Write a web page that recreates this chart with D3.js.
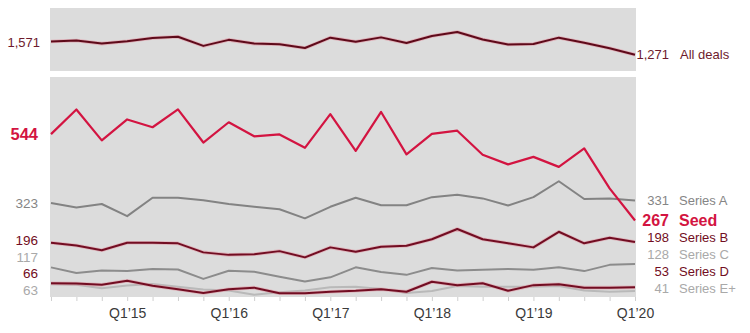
<!DOCTYPE html>
<html>
<head>
<meta charset="utf-8">
<script src="https://cdn.jsdelivr.net/npm/d3@7"></script>
<style>
  html, body { margin: 0; padding: 0; background: #fff; }
  svg { display: block; font-family: "Liberation Sans", Arial, sans-serif; }
</style>
</head>
<body>
<svg id="chart" width="750" height="333"></svg>
<script>
// Quarterly deal counts, Q2'14 through Q1'20
const quarters = [
  "Q2'14","Q3'14","Q4'14","Q1'15","Q2'15","Q3'15","Q4'15","Q1'16",
  "Q2'16","Q3'16","Q4'16","Q1'17","Q2'17","Q3'17","Q4'17","Q1'18",
  "Q2'18","Q3'18","Q4'18","Q1'19","Q2'19","Q3'19","Q4'19","Q1'20"
];
const tickLabels = ["Q1\u201915","Q1\u201916","Q1\u201917","Q1\u201918","Q1\u201919","Q1\u201920"];

const allDeals = [1571,1592,1522,1577,1650,1678,1470,1607,1522,1507,1421,1657,1565,1663,1535,1694,1785,1614,1500,1513,1657,1543,1415,1271];
const seed     = [544,623,524,591,566,623,517,582,537,543,500,608,490,615,479,545,555,478,447,471,439,498,370,267];
const seriesA  = [323,309,320,281,340,340,332,320,311,303,274,311,340,316,316,342,350,338,315,342,393,336,338,331];
const seriesB  = [196,187,172,196,196,194,165,157,159,169,149,181,167,183,186,207,240,207,194,181,231,194,212,198];
const seriesC  = [117,99,107,105,112,110,80,106,103,87,72,85,117,102,93,115,107,109,112,109,117,105,125,128];
const seriesD  = [66,65,61,74,58,47,35,47,52,34,34,39,42,47,39,71,60,66,42,60,63,52,52,53];
const seriesE  = [63,61,50,59,64,55,46,43,29,37,43,53,55,48,35,41,57,55,55,55,57,43,39,41];

const CRIMSON = "#d31441", MAROON = "#720d22", GREY = "#858585", LIGHT = "#a9a9a9";

const bottomSeries = [
  { name: "Series E+", values: seriesE, color: "#b9b9b9", text: LIGHT, halo: false },
  { name: "Series D",  values: seriesD, color: MAROON,    text: MAROON, halo: true },
  { name: "Series C",  values: seriesC, color: "#8c8c8c", text: LIGHT, halo: false },
  { name: "Series B",  values: seriesB, color: MAROON,    text: MAROON, halo: true },
  { name: "Series A",  values: seriesA, color: "#838383", text: GREY,  halo: false },
  { name: "Seed",      values: seed,    color: CRIMSON,   text: CRIMSON, halo: false, bold: true }
];

const svg = d3.select("#chart");
const left = 50, right = 636;
const top1 = 8, bot1 = 71, top2 = 77, bot2 = 297;

const x = d3.scalePoint().domain(quarters).range([51, 635]);
const yTop = d3.scaleLinear().domain([900, 2330]).range([bot1, top1]);
const yBot = d3.scaleLinear().domain([22, 727]).range([bot2, top2]);

// panel backgrounds
svg.append("rect").attr("x", left).attr("y", top1).attr("width", right - left).attr("height", bot1 - top1).attr("fill", "#dcdcdc");
svg.append("rect").attr("x", left).attr("y", top2).attr("width", right - left).attr("height", bot2 - top2).attr("fill", "#dcdcdc");

svg.append("clipPath").attr("id", "clipBot").append("rect")
  .attr("x", left).attr("y", top2).attr("width", right - left).attr("height", bot2 - top2);

// x axis with a tick at every quarter, labels on Q1 only
const axis = d3.axisBottom(x)
  .tickSize(4).tickPadding(7)
  .tickFormat(q => q.startsWith("Q1") ? tickLabels[quarters.filter(d => d.startsWith("Q1")).indexOf(q)] : "");
const gx = svg.append("g").attr("transform", `translate(0,${bot2})`).call(axis);
gx.select(".domain").remove();
gx.selectAll(".tick line").attr("stroke", "#cfcfcf");
gx.selectAll(".tick text").attr("fill", "#3a3a3a").style("font-size", "14px")
  .style("font-family", "'Liberation Sans', Arial, sans-serif");

// lines
const lineTop = d3.line().x((d, i) => x(quarters[i])).y(d => yTop(d));
const lineBot = d3.line().x((d, i) => x(quarters[i])).y(d => yBot(d));

svg.append("path").datum(allDeals).attr("d", lineTop).attr("fill", "none")
  .attr("stroke", "#e28d9b").attr("stroke-opacity", 0.55).attr("stroke-width", 3.6).attr("stroke-linejoin", "round");
svg.append("path").datum(allDeals).attr("d", lineTop).attr("fill", "none")
  .attr("stroke", "#5e0a1a").attr("stroke-width", 2).attr("stroke-linejoin", "round");

const gl = svg.append("g").attr("clip-path", "url(#clipBot)");
bottomSeries.forEach(s => {
  if (s.halo) {
    gl.append("path").datum(s.values).attr("d", lineBot).attr("fill", "none")
      .attr("stroke", "#e28d9b").attr("stroke-opacity", 0.5).attr("stroke-width", 3.6).attr("stroke-linejoin", "round");
  }
  gl.append("path").datum(s.values).attr("d", lineBot).attr("fill", "none")
    .attr("stroke", s.color).attr("stroke-width", s.name === "Seed" ? 2.2 : 2).attr("stroke-linejoin", "round");
});

// spread label positions so they do not overlap, keeping the lowest above maxY
function dodge(items, gap, maxY) {
  const sorted = items.slice().sort((a, b) => a.y - b.y);
  for (let i = 1; i < sorted.length; i++) sorted[i].y = Math.max(sorted[i].y, sorted[i - 1].y + gap);
  sorted[sorted.length - 1].y = Math.min(sorted[sorted.length - 1].y, maxY);
  for (let i = sorted.length - 2; i >= 0; i--) sorted[i].y = Math.min(sorted[i].y, sorted[i + 1].y - gap);
  return items;
}

const fmt = d3.format(",");

// start-value labels
const leftItems = dodge(bottomSeries.map(s => ({ s, v: s.values[0], y: yBot(s.values[0]) })), 16.5, 290);
const rightItems = dodge(bottomSeries.map(s => ({ s, v: s.values[s.values.length - 1], y: yBot(s.values[s.values.length - 1]) })), 16.7, 288);

svg.append("text").attr("x", 40).attr("y", yTop(allDeals[0]) + 1.5).attr("dy", "0.35em")
  .attr("text-anchor", "end").attr("fill", "#6e1a2c").style("font-size", "13px").text(fmt(allDeals[0]));

leftItems.forEach(d => {
  svg.append("text").attr("x", 38).attr("y", d.y).attr("dy", "0.35em")
    .attr("text-anchor", "end").attr("fill", d.s.text)
    .style("font-size", d.s.bold ? "16.5px" : "13.5px").style("font-weight", d.s.bold ? "bold" : "normal")
    .text(fmt(d.v));
});

// end-value labels with series names
const endAll = allDeals[allDeals.length - 1];
svg.append("text").attr("x", 669).attr("y", yTop(endAll)).attr("dy", "0.35em")
  .attr("text-anchor", "end").attr("fill", "#6e1a2c").style("font-size", "13px").text(fmt(endAll));
svg.append("text").attr("x", 680).attr("y", yTop(endAll)).attr("dy", "0.35em")
  .attr("fill", "#6e1a2c").style("font-size", "13px").text("All deals");

rightItems.forEach(d => {
  const size = d.s.bold ? "16px" : "13px";
  const weight = d.s.bold ? "bold" : "normal";
  svg.append("text").attr("x", 669).attr("y", d.y).attr("dy", "0.35em")
    .attr("text-anchor", "end").attr("fill", d.s.text)
    .style("font-size", size).style("font-weight", weight).text(fmt(d.v));
  svg.append("text").attr("x", 679).attr("y", d.y).attr("dy", "0.35em")
    .attr("fill", d.s.text)
    .style("font-size", size).style("font-weight", weight).text(d.s.name);
});
</script>
</body>
</html>
